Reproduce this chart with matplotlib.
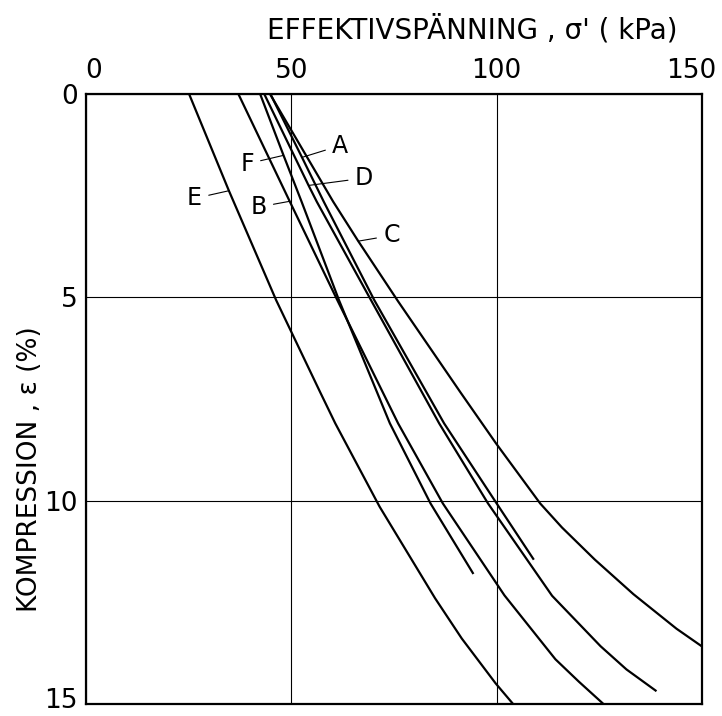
import numpy as np
import matplotlib
matplotlib.use("Agg")
import matplotlib.pyplot as plt
from matplotlib.transforms import ScaledTranslation

# effective stress (kPa) vs compression (%)
E_x = [25.1, 34.8, 46.3, 57.1, 60.7, 71.5, 85.0, 91.5, 99.8, 104.0]
E_y = [0.0, 2.38, 5.07, 7.35, 8.1, 10.15, 12.4, 13.39, 14.5, 15.0]

B_x = [37.1, 49.6, 61.1, 76.0, 86.9, 101.9, 114.3, 120.0, 126.0]
B_y = [0.0, 2.64, 5.05, 8.1, 10.07, 12.33, 13.9, 14.45, 15.0]

F_x = [42.4, 48.1, 52.5, 61.6, 74.0, 83.9, 94.2]
F_y = [0.0, 1.51, 2.65, 5.07, 8.1, 10.07, 11.78]

A_x = [44.9, 52.6, 57.9, 70.2, 87.2, 100.0, 108.9]
A_y = [0.0, 1.56, 2.65, 5.07, 8.1, 10.07, 11.43]

D_x = [43.4, 54.2, 56.2, 69.4, 86.0, 97.9, 113.5, 125.3, 131.6, 138.7]
D_y = [0.0, 2.25, 2.65, 5.07, 8.1, 10.07, 12.34, 13.58, 14.15, 14.67]

C_x = [44.8, 60.2, 66.3, 76.0, 91.2, 99.9, 110.6, 115.9, 123.9, 133.3, 143.8, 150.2]
C_y = [0.0, 2.65, 3.62, 5.1, 7.34, 8.6, 10.07, 10.66, 11.45, 12.3, 13.15, 13.6]

curves = {"A": (A_x, A_y), "B": (B_x, B_y), "C": (C_x, C_y),
          "D": (D_x, D_y), "E": (E_x, E_y), "F": (F_x, F_y)}

# label text position and where its leader line touches the curve
label_text = {"A": (61.9, 1.27), "F": (39.2, 1.72), "D": (67.7, 2.07),
              "B": (42.0, 2.78), "E": (26.4, 2.57), "C": (74.4, 3.48)}
label_tip = {"A": (52.6, 1.56), "F": (48.1, 1.51), "D": (54.2, 2.25),
             "B": (49.6, 2.64), "E": (34.8, 2.38), "C": (66.3, 3.62)}

x_ticks = [0, 50, 100, 150]
y_ticks = [0, 5, 10, 15]

plt.rcParams['font.family'] = ['DejaVu Sans']

fig = plt.figure(figsize=(7.22, 7.16), dpi=100)
ax = fig.add_axes([0.1191, 0.0168, 0.8532, 0.852])

for name, (xs, ys) in curves.items():
    ax.plot(xs, ys, color='k', lw=1.6, solid_joinstyle='round')

for name in curves:
    ax.annotate(name, xy=label_tip[name], xytext=label_text[name],
                ha='center', va='center', fontsize=17,
                arrowprops=dict(arrowstyle='-', lw=0.8, color='k',
                                shrinkA=3, shrinkB=0))

ax.set_xlim(0, 150)
ax.set_ylim(15, 0)
ax.set_xticks(x_ticks)
ax.set_yticks(y_ticks)
ax.xaxis.tick_top()
ax.tick_params(length=0, labelsize=19, pad=7)
ax.tick_params(axis='y', pad=6)
ax.grid(True, color='k', lw=0.8)
for s in ax.spines.values():
    s.set_linewidth(1.6)

# nudge some tick labels like the original
px = fig.dpi_scale_trans
xl = ax.get_xticklabels()
xl[0].set_transform(xl[0].get_transform() + ScaledTranslation(8/100, 0, px))
xl[-1].set_transform(xl[-1].get_transform() + ScaledTranslation(-11/100, 0, px))
yl = ax.get_yticklabels()
yl[-1].set_transform(yl[-1].get_transform() + ScaledTranslation(0, 6/100, px))

ax.text(0.627, 1.105, "EFFEKTIVSPÄNNING , σ' ( kPa)", transform=ax.transAxes,
        ha='center', va='center', fontsize=20)
ax.set_ylabel("KOMPRESSION , ε (%)", fontsize=19)
ax.yaxis.set_label_coords(-0.07, 0.385)

fig.savefig("out.png", dpi=100)
